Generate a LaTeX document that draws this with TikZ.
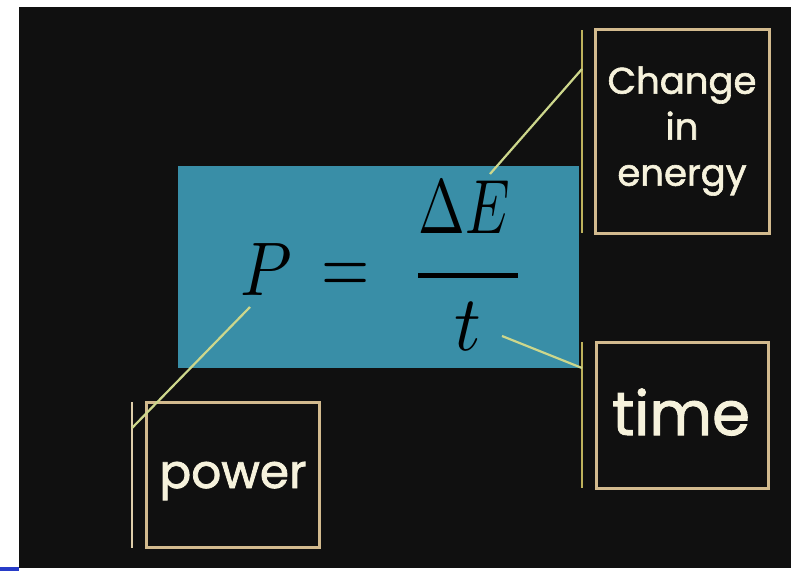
\documentclass[tikz,border=0pt]{standalone}
\usepackage{fontspec}
\setmainfont{Poppins}
\newfontfamily\lblfont[FakeBold=1.6]{Poppins}
\usepackage{graphicx}
\definecolor{bgblack}{RGB}{16,16,16}
\definecolor{eqblue}{RGB}{57,142,167}
\definecolor{boxline}{RGB}{210,186,142}
\definecolor{vline}{RGB}{190,178,92}
\definecolor{pline}{RGB}{222,206,170}
\definecolor{diag}{RGB}{205,215,140}
\definecolor{labeltext}{RGB}{246,242,220}
\definecolor{edgeblue}{RGB}{40,60,200}
\tikzset{
  labelbox/.style={draw=boxline, line width=3pt, inner sep=0pt, fill=bgblack},
  labeltxt/.style={text=labeltext, inner sep=0pt},
  mathpiece/.style={text=black, inner sep=0pt, anchor=base},
  vbar/.style={draw=vline, line width=2.5pt},
  pointer/.style={draw=diag, line width=2.2pt}
}
\begin{document}
\begin{tikzpicture}[x=1pt,y=-1pt]
\useasboundingbox (0,0) rectangle (791,571);
\fill[white] (0,0) rectangle (791,571);
\fill[bgblack] (19,7) rectangle (791,568);
\fill[edgeblue] (0,567) rectangle (19,571);
% equation box
\node[fill=eqblue, minimum width=401pt, minimum height=202pt, inner sep=0pt, anchor=north west] (eqbox) at (178,166) {};
% equation
\node[mathpiece] (eqP) at (266,295) {\scalebox{6.6}[7.6]{$P$}};
\node[mathpiece] (eqsign) at (346,293) {\scalebox{6.2}[8.2]{$=$}};
\node[mathpiece] (eqDE) at (464,233) {\scalebox{5.6}[7.7]{$\Delta E$}};
\node[mathpiece] (eqt) at (468,350) {\scalebox{7.4}[7.8]{$t$}};
\coordinate (barL) at (418,275);
\coordinate (barR) at (518,275);
\draw[black, line width=5pt] (barL) -- (barR);
% label boxes
\node[labelbox, minimum width=174pt, minimum height=204pt] (energybox) at (682,131) {};
\node[labeltxt, align=center, font=\lblfont\fontsize{37}{46}\selectfont] (energytxt) at (682,131) {Change\\in\\energy};
\node[labelbox, minimum width=172pt, minimum height=146pt] (timebox) at (682,415) {};
\node[labeltxt, anchor=base, font=\lblfont\fontsize{61}{70}\selectfont] (timetxt) at (681,435) {time};
\node[labelbox, minimum width=173pt, minimum height=145pt] (powerbox) at (232.5,474.5) {};
\node[labeltxt, anchor=base, font=\lblfont\fontsize{47}{56}\selectfont] (powertxt) at (233,488) {power};
% bracket lines
\coordinate (eTop) at (582,30);
\coordinate (eBot) at (582,233);
\coordinate (eJoin) at (582,69);
\coordinate (tTop) at (582,342);
\coordinate (tBot) at (582,488);
\coordinate (tJoin) at (582,368);
\coordinate (pTop) at (132,402);
\coordinate (pBot) at (132,548);
\coordinate (pJoin) at (132,428);
\draw[vbar] (eTop) -- (eBot);
\draw[vbar] (tTop) -- (tBot);
\draw[draw=pline, line width=2.5pt] (pTop) -- (pBot);
% pointers
\coordinate (DEpt) at (490,174);
\coordinate (tpt) at (502,336);
\coordinate (Ppt) at (250,307);
\draw[pointer] (DEpt) -- (eJoin);
\draw[pointer] (tpt) -- (tJoin);
\draw[pointer] (Ppt) -- (pJoin);
\end{tikzpicture}
\end{document}
